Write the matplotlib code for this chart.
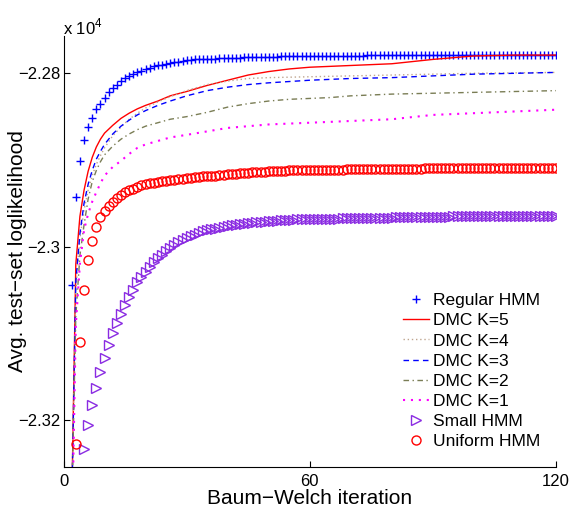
import matplotlib
matplotlib.use("Agg")
import matplotlib.pyplot as plt

plt.rcParams["font.family"] = ["Liberation Sans", "DejaVu Sans"]
plt.rcParams["mathtext.fontset"] = "custom"
plt.rcParams["mathtext.rm"] = "Liberation Sans"

# marker series: one value per Baum-Welch iteration
regular_start = 2
regular_hmm = [
    -23044, -22943, -22901, -22877, -22862, -22851, -22841, -22835, -22828, -22822,
    -22817, -22813, -22809, -22806, -22803, -22801, -22799, -22797, -22795, -22794,
    -22792, -22791, -22790, -22789, -22788, -22787, -22787, -22786, -22785, -22785,
    -22784, -22784, -22784, -22783, -22783, -22783, -22782, -22782, -22782, -22782,
    -22782, -22782, -22781, -22781, -22781, -22781, -22781, -22781, -22781, -22781,
    -22781, -22780, -22780, -22780, -22780, -22780, -22780, -22780, -22780, -22780,
    -22780, -22780, -22780, -22780, -22780, -22780, -22780, -22780, -22780, -22780,
    -22780, -22780, -22779, -22779, -22779, -22779, -22779, -22779, -22779, -22779,
    -22779, -22779, -22779, -22779, -22779, -22779, -22779, -22779, -22779, -22779,
    -22779, -22779, -22779, -22779, -22779, -22779, -22779, -22779, -22779, -22779,
    -22779, -22779, -22779, -22779, -22779, -22779, -22779, -22779, -22779, -22779,
    -22779, -22779, -22779, -22779, -22779, -22779, -22779, -22779, -22779,
]

small_start = 5
small_hmm = [
    -23233, -23206, -23183, -23163, -23145, -23128, -23113, -23100, -23088, -23078,
    -23067, -23058, -23050, -23041, -23035, -23029, -23023, -23018, -23013, -23009,
    -23005, -23001, -22998, -22995, -22992, -22990, -22988, -22986, -22984, -22982,
    -22981, -22980, -22979, -22978, -22977, -22976, -22975, -22975, -22974, -22974,
    -22973, -22973, -22972, -22971, -22971, -22970, -22970, -22970, -22969, -22969,
    -22969, -22969, -22968, -22968, -22968, -22968, -22968, -22968, -22968, -22968,
    -22968, -22968, -22968, -22967, -22967, -22967, -22967, -22967, -22967, -22967,
    -22967, -22967, -22967, -22967, -22967, -22967, -22966, -22966, -22966, -22966,
    -22966, -22966, -22966, -22966, -22966, -22966, -22966, -22966, -22966, -22966,
    -22965, -22965, -22965, -22965, -22965, -22965, -22965, -22965, -22965, -22965,
    -22965, -22965, -22965, -22965, -22964, -22964, -22964, -22964, -22964, -22964,
    -22964, -22964, -22964, -22964, -22964, -22964,
]

uniform_start = 3
uniform_hmm = [
    -23228, -23110, -23050, -23015, -22993, -22977, -22966, -22959, -22953, -22948,
    -22944, -22940, -22937, -22935, -22933, -22931, -22929, -22928, -22927, -22926,
    -22925, -22924, -22924, -22923, -22923, -22922, -22922, -22921, -22921, -22920,
    -22920, -22919, -22919, -22918, -22918, -22917, -22917, -22916, -22916, -22916,
    -22915, -22915, -22915, -22914, -22914, -22914, -22914, -22913, -22913, -22913,
    -22913, -22913, -22912, -22912, -22912, -22912, -22912, -22912, -22911, -22911,
    -22911, -22911, -22911, -22911, -22911, -22911, -22910, -22910, -22910, -22910,
    -22910, -22910, -22910, -22910, -22910, -22910, -22910, -22910, -22910, -22910,
    -22910, -22910, -22910, -22910, -22910, -22909, -22909, -22909, -22909, -22909,
    -22909, -22909, -22909, -22909, -22909, -22909, -22909, -22909, -22909, -22909,
    -22909, -22909, -22909, -22909, -22909, -22909, -22909, -22909, -22909, -22909,
    -22909, -22909, -22909, -22909, -22909, -22909, -22909, -22909,
]

# DMC curves, read at these iterations
line_iters = [2, 3, 4, 5, 6, 7, 8, 9, 10, 12, 14, 16, 18, 20, 23, 26, 30, 35, 40, 45,
              50, 55, 60, 65, 70, 80, 90, 100, 110, 120]
dmc_k5 = [-23300, -23020, -22965, -22935, -22913, -22897, -22885, -22876, -22869, -22860,
          -22852, -22846, -22841, -22837, -22832, -22826, -22821, -22814, -22808, -22802,
          -22798, -22795, -22793, -22792, -22791, -22789, -22784, -22780, -22779, -22779]
dmc_k4 = [-23300, -23050, -22990, -22958, -22935, -22918, -22905, -22895, -22886, -22872,
          -22862, -22853, -22846, -22840, -22833, -22827, -22820, -22813, -22809, -22806,
          -22805, -22804.5, -22804, -22803.5, -22803, -22802, -22801, -22800, -22799.5, -22799]
dmc_k3 = [-23300, -23040, -22985, -22950, -22928, -22912, -22899, -22890, -22882, -22870,
          -22861, -22854, -22848, -22843, -22837, -22832, -22826, -22820, -22816, -22813,
          -22811, -22809.5, -22808, -22807, -22806, -22805, -22803, -22801, -22800, -22799]
dmc_k2 = [-23300, -23080, -23010, -22975, -22945, -22925, -22912, -22902, -22894, -22884,
          -22876, -22870, -22865, -22861, -22857, -22853, -22850, -22845, -22839, -22835,
          -22832, -22830, -22829, -22828, -22826, -22824, -22823, -22822, -22821, -22820]
dmc_k1 = [-23350, -23090, -23020, -22981, -22962, -22948, -22937, -22927, -22918, -22908,
          -22901, -22893, -22886, -22882, -22878, -22874, -22871, -22867, -22863, -22861,
          -22859, -22858, -22857, -22856, -22855, -22853, -22848, -22846, -22844, -22842]

y_ticks = [-23200, -23000, -22800]
y_tick_labels = ["\u22122.32", "\u22122.3", "\u22122.28"]
x_ticks = [0, 60, 120]

fig = plt.figure(figsize=(5.71, 5.09), dpi=100)
ax = fig.add_axes([63.5 / 571, 1 - 467 / 509, (556 - 63.5) / 571, (467 - 36) / 509])


def iters(start, vals):
    return list(range(start, start + len(vals)))


ax.plot(iters(regular_start, regular_hmm), regular_hmm, ls="none", marker="+",
        ms=6, mew=1, color="#0000ff", label="Regular HMM")
ax.plot(line_iters, dmc_k5, color="#ff0000", lw=1, label="DMC K=5")
ax.plot(line_iters, dmc_k4, color="#bfa58f", lw=1, ls=(0, (1, 2)), label="DMC K=4")
ax.plot(line_iters, dmc_k3, color="#0000ff", lw=1, ls=(0, (4, 3)), label="DMC K=3")
ax.plot(line_iters, dmc_k2, color="#7a7d55", lw=1, ls=(0, (4, 2.5, 1, 2.5)), label="DMC K=2")
ax.plot(line_iters, dmc_k1, color="#ff00ff", lw=1.5, ls=(0, (1, 2.8)), label="DMC K=1")
ax.plot(iters(small_start, small_hmm), small_hmm, ls="none", marker=">", ms=6.5,
        mfc="none", mew=1, color="#8a2be2", label="Small HMM")
ax.plot(iters(uniform_start, uniform_hmm), uniform_hmm, ls="none", marker="o", ms=6.5,
        mfc="none", mew=1, color="#ff0000", label="Uniform HMM")

ax.set_xlim(0, 120)
ax.set_ylim(-23254, -22757)
ax.set_xticks(x_ticks)
ax.set_yticks(y_ticks)
ax.set_yticklabels(y_tick_labels)
ax.tick_params(direction="in", length=4, width=0.8, labelsize=12)
ax.tick_params(axis="y", pad=2.5)
ax.tick_params(axis="x", pad=5)
ax.spines["top"].set_visible(False)
ax.spines["right"].set_visible(False)
for s in ("left", "bottom"):
    ax.spines[s].set_linewidth(0.8)

ax.set_xlabel("Baum\u2212Welch iteration", fontsize=15, labelpad=0)
ax.set_ylabel("Avg. test\u2212set loglikelihood", fontsize=15)
ax.yaxis.set_label_coords((27 - 63.5) / 492.5, 0.5)
fig.text(63 / 571, 1 - 27 / 509, "x 10$^{4}$", fontsize=12, ha="left", va="center")

ax.legend(loc="upper left", bbox_to_anchor=(403 / 571, 1 - 293 / 509),
          bbox_transform=fig.transFigure, frameon=False, fontsize=12.5,
          handlelength=1.5, handletextpad=0.2, labelspacing=0.29,
          borderpad=0, borderaxespad=0, numpoints=1)

fig.savefig("out.png", dpi=100)
